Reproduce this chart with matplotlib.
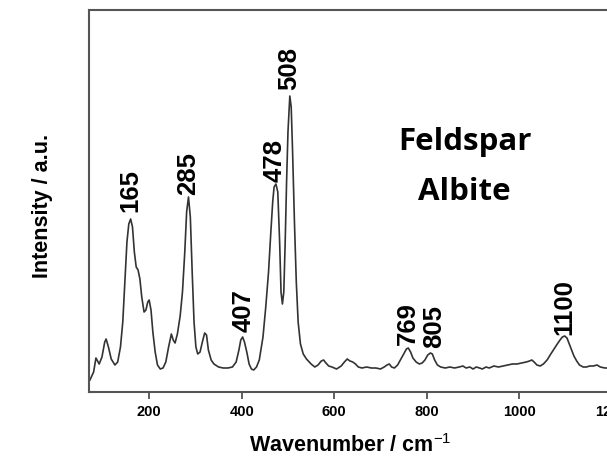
import numpy as np
import matplotlib
matplotlib.use('Agg')
import matplotlib.pyplot as plt

# Raman spectrum (wavenumber / cm-1, intensity in a.u.)
wavenumber = [72, 80, 85, 92, 98, 104, 107, 112, 118, 126, 132, 138, 143, 148,
              152, 156, 160, 164, 168, 172, 176, 180, 184, 189, 193, 197, 200,
              204, 208, 213, 218, 224, 230, 236, 242, 248, 252, 256, 261, 267,
              272, 277, 281, 285, 289, 293, 297, 301, 305, 310, 315, 320, 324,
              328, 334, 340, 350, 360, 370, 380, 388, 394, 398, 402, 406, 411,
              416, 421, 426, 432, 438, 446, 452, 458, 463, 467, 470, 474, 478,
              482, 485, 488, 491, 494, 497, 500, 504, 507, 510, 514, 518, 522,
              527, 533, 540, 550, 558, 565, 572, 577, 582, 588, 595, 605, 615,
              622, 628, 634, 640, 646, 652, 660, 670, 680, 690, 700, 708, 714,
              719, 724, 730, 737, 743, 750, 756, 760, 765, 770, 777, 784, 790,
              796, 802, 808, 812, 817, 823, 830, 840, 850, 860, 870, 878, 885,
              893, 900, 907, 914, 920, 928, 935, 945, 955, 965, 975, 985, 995,
              1005, 1015, 1022, 1027, 1032, 1038, 1045, 1052, 1060, 1068, 1075,
              1082, 1088, 1093, 1098, 1103, 1108, 1113, 1118, 1124, 1130, 1138,
              1145, 1152, 1160, 1168, 1175, 1185, 1195, 1210, 1230]
intensity = [12, 20, 34, 28, 35, 50, 53, 45, 33, 27, 30, 45, 70, 115,
             150, 168, 173, 165, 140, 125, 122, 113, 95, 80, 82, 90, 92,
             82, 60, 40, 27, 23, 24, 30, 45, 58, 52, 49, 58, 76,
             100, 140, 180, 195, 175, 120, 70, 45, 38, 40, 50, 59, 57,
             42, 32, 28, 25, 24, 24, 25, 30, 42, 52, 55, 50, 40,
             28, 23, 22, 25, 32, 55, 85, 120, 160, 190, 205, 208, 200,
             150, 100, 88, 100, 150, 210, 260, 296, 285, 240, 170, 110, 70,
             48, 38, 33, 28, 25, 27, 31, 32, 29, 26, 25, 23, 26,
             30, 33, 31, 30, 28, 25, 24, 25, 24, 24, 23, 25, 27,
             28, 25, 24, 27, 32, 38, 43, 44, 40, 34, 30, 28, 29,
             32, 37, 39, 38, 32, 27, 25, 24, 25, 24, 25, 26, 24,
             25, 23, 25, 24, 23, 25, 24, 26, 25, 26, 27, 28, 28,
             29, 30, 31, 32, 30, 27, 26, 28, 32, 38, 43,
             48, 52, 55, 56, 54, 48, 42, 36, 31, 27, 25,
             25, 26, 26, 27, 25, 24, 24, 25, 25]

# peak labels: text, x position, bottom of text (intensity units)
peak_labels = ['165', '285', '407', '478', '508', '769', '805', '1100']
peak_x = [160, 285, 404, 471, 503, 760, 815, 1098]
peak_y = [181, 198, 61, 211, 303, 48, 45, 58]

plt.rcParams['font.family'] = ['Liberation Sans', 'DejaVu Sans']
plt.rcParams['mathtext.fontset'] = 'custom'
plt.rcParams['mathtext.rm'] = 'Liberation Sans'
plt.rcParams['mathtext.bf'] = 'Liberation Sans:bold'

fig = plt.figure(figsize=(6.07, 4.60), dpi=100)
ax = fig.add_axes([89 / 607, 67 / 460, 546 / 607, 382 / 460])

ax.plot(wavenumber, intensity, color='#333333', lw=1.2)

for lab, x, y in zip(peak_labels, peak_x, peak_y):
    ax.text(x, y, lab, rotation=90, ha='center', va='bottom',
            fontsize=18.5, fontweight='bold')

ax.text(882, 266, 'Feldspar\nAlbite', ha='center', va='top',
        fontsize=22.5, fontweight='bold', family=['Open Sans', 'DejaVu Sans'],
        linespacing=1.85)

ax.set_xlim(70, 1250)
ax.set_ylim(0, 382)
ax.set_xticks([200, 400, 600, 800, 1000, 1200])
ax.set_yticks([])
ax.tick_params(axis='x', direction='out', length=5, width=1.2,
               labelsize=10.5, pad=4, color='#444444')
for t in ax.get_xticklabels():
    t.set_fontweight('bold')
for s in ax.spines.values():
    s.set_color('#555555')
    s.set_linewidth(1.5)

ax.set_xlabel('Wavenumber / cm$^{-1}$', fontsize=15.5,
              fontweight='bold')
ax.xaxis.set_label_coords(0.478, -0.108)
ax.set_ylabel('Intensity / a.u.', fontsize=15.5, fontweight='bold')
ax.yaxis.set_label_coords(-0.066, 0.49)

fig.savefig('out.png', dpi=100)
